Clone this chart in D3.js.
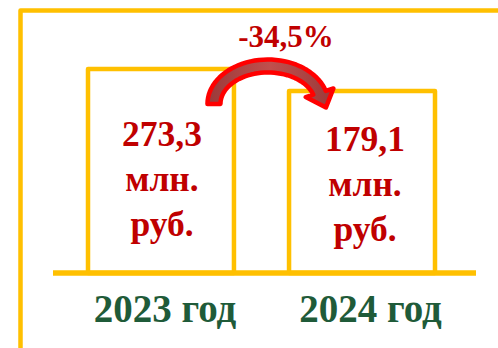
<!DOCTYPE html>
<html><head><meta charset="utf-8">
<script src="https://cdn.jsdelivr.net/npm/d3@7"></script>
<style>html,body{margin:0;padding:0;background:#fff;}svg{display:block;}</style>
</head><body>
<script>
const years = ["2023 год", "2024 год"];
const values = [273.3, 179.1];
const valueLabels = ["273,3", "179,1"];
const unitLines = ["млн.", "руб."];
const changeLabel = "-34,5%";

const W = 498, H = 348;
const gold = "#FFC000", red = "#C00000", green = "#1F5B39";
const svg = d3.select("body").append("svg").attr("width", W).attr("height", H);

const x = d3.scaleBand().domain(years).range([88, 435]).paddingInner(0.274).paddingOuter(0);
const y = d3.scaleLinear().domain([-600, 300]).range([273, 62.8]);
const baseY = y(-600);

// frame
svg.append("path").attr("d", `M20.5,${H}V10.5H${W}`)
  .attr("fill", "none").attr("stroke", gold).attr("stroke-width", 4.5).attr("stroke-linejoin", "round");

// bars
svg.selectAll("rect.bar").data(values).join("rect").attr("class", "bar")
  .attr("x", (d, i) => x(years[i])).attr("width", x.bandwidth())
  .attr("y", d => y(d)).attr("height", d => baseY - y(d))
  .attr("fill", "none").attr("stroke", gold).attr("stroke-width", 4.5).attr("stroke-linejoin", "round");

// baseline
svg.append("line").attr("x1", 53).attr("x2", 476).attr("y1", baseY).attr("y2", baseY)
  .attr("stroke", gold).attr("stroke-width", 5.5);

// value texts
const vt = svg.selectAll("text.val").data(values).join("text").attr("class", "val")
  .attr("x", (d, i) => x(years[i]) + x.bandwidth() / 2 + (i === 0 ? 1 : 3))
  .attr("y", (d, i) => y(d) + 77 - (i === 0 ? 0 : 17.5))
  .attr("text-anchor", "middle").attr("fill", red)
  .style("font-family", "'Liberation Serif','Times New Roman',serif").style("font-weight", "bold").style("font-size", "35.5px");
vt.append("tspan").text((d, i) => valueLabels[i]);
unitLines.forEach(u => vt.append("tspan").attr("x", function () { return this.parentNode.getAttribute("x"); }).attr("dy", 45).text(u));

// year labels
svg.selectAll("text.year").data(years).join("text").attr("class", "year")
  .attr("x", (d, i) => x(d) + x.bandwidth() / 2 + (i === 0 ? 4 : 8.5))
  .attr("y", 322).attr("text-anchor", "middle").attr("fill", green)
  .style("font-family", "'Liberation Serif','Times New Roman',serif").style("font-weight", "bold").style("font-size", "39px")
  .text(d => d);

// curved arrow
const defs = svg.append("defs");
const grad = defs.append("linearGradient").attr("id", "ag").attr("x1", 0).attr("y1", 0).attr("x2", 1).attr("y2", 0);
grad.append("stop").attr("offset", "0%").attr("stop-color", "#9B3A3A");
grad.append("stop").attr("offset", "50%").attr("stop-color", "#C0504D");
grad.append("stop").attr("offset", "100%").attr("stop-color", "#9B3A3A");

const b1r = x(years[0]) + x.bandwidth();
const cx = b1r + 34, cy = 104, rx = 54, ry = 38, hw = 6.5;
const t0 = Math.PI, t1 = 0.3;
const pt = (t, d) => [cx + (rx + d) * Math.cos(t), cy - (ry + d) * Math.sin(t)];
const N = 40;
const outer = d3.range(N + 1).map(k => pt(t0 + (t1 - t0) * k / N, hw));
const inner = d3.range(N + 1).map(k => pt(t0 + (t1 - t0) * k / N, -hw)).reverse();
const oE = pt(t1, hw), iE = pt(t1, -hw), mE = pt(t1, 0);
const ex = oE[0] - iE[0], ey = oE[1] - iE[1], el = Math.hypot(ex, ey);
const nx = ex / el, ny = ey / el;
const dxT = rx * Math.sin(t1), dyT = ry * Math.cos(t1), tl = Math.hypot(dxT, dyT);
const hOut = [oE[0] + nx * 8, oE[1] + ny * 8];
const hIn = [iE[0] - nx * 8, iE[1] - ny * 8];
const tip = [mE[0] + dxT / tl * 16, mE[1] + dyT / tl * 16];
const pts = outer.concat([hOut, tip, hIn]).concat(inner);
svg.append("path").attr("d", d3.line()(pts) + "Z")
  .attr("fill", "url(#ag)").attr("stroke", "#FF0000").attr("stroke-width", 4.5).attr("stroke-linejoin", "round");

// change label
svg.append("text").attr("x", cx + 18).attr("y", 47).attr("text-anchor", "middle").attr("fill", red)
  .style("font-family", "'Liberation Serif','Times New Roman',serif").style("font-weight", "bold").style("font-size", "31px")
  .text(changeLabel);
</script>
</body></html>
